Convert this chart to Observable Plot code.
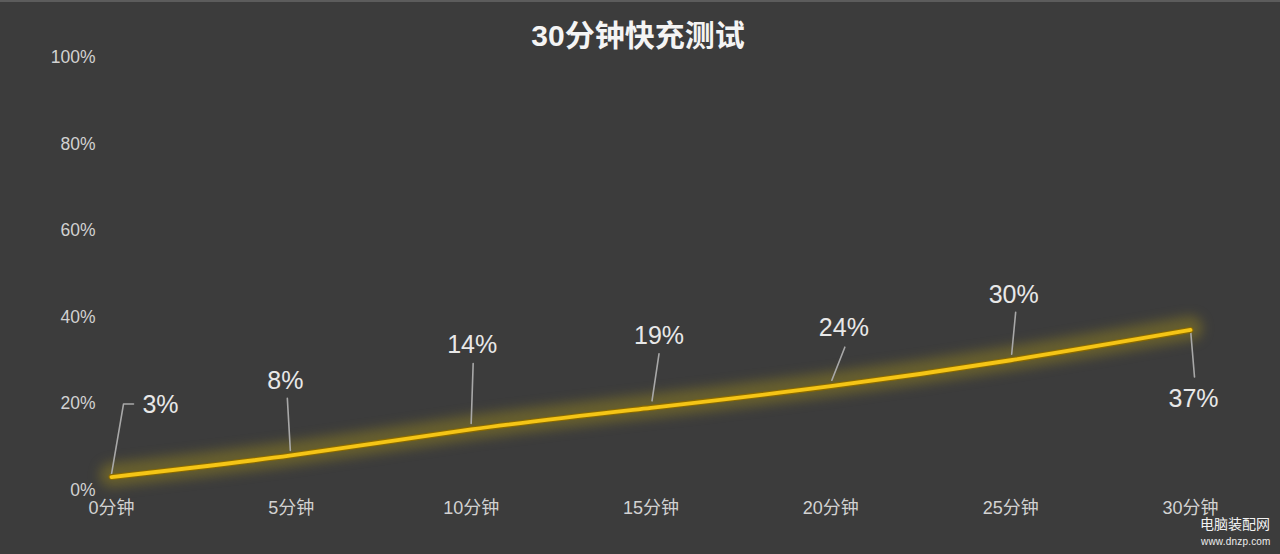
<!DOCTYPE html>
<html>
<head>
<meta charset="utf-8">
<script src="https://cdn.jsdelivr.net/npm/d3@7"></script>
<script src="https://cdn.jsdelivr.net/npm/@observablehq/plot@0.6"></script>
<style>
  html, body { margin: 0; padding: 0; background: #3c3c3c; }
  body { width: 1280px; height: 554px; position: relative; overflow: hidden;
         font-family: "Liberation Sans", "Noto Sans CJK SC", sans-serif; box-shadow: inset 0 2px 0 #5c5c5c; }
  #title { position: absolute; left: 0; top: 18px; width: 1276px; text-align: center;
           font-size: 30px; line-height: 36px; font-weight: bold; color: #f4f4f4;
           font-family: "Liberation Sans", "Noto Sans CJK SC", sans-serif; }
  #chart { position: absolute; left: 0; top: 50px; }
  #wm1 { position: absolute; left: 1200px; top: 515px; font-size: 14px; line-height: 17px; color: #f2f2f2;
         font-family: "Noto Sans CJK SC", sans-serif; }
  #wm2 { position: absolute; left: 1201px; top: 536px; font-size: 10px; line-height: 12px; color: #eeeeee;
         letter-spacing: 0.2px; font-family: "Liberation Sans", sans-serif; }
</style>
</head>
<body>
<div id="title">30分钟快充测试</div>
<div id="chart"></div>
<div id="wm1">电脑装配网</div>
<div id="wm2">www.dnzp.com</div>
<script>
// ---- data ----
const times  = [0, 5, 10, 15, 20, 25, 30];          // minutes
const charge = [3, 8, 14, 19, 24, 30, 37];          // battery %
const xTicks = [0, 5, 10, 15, 20, 25, 30];
const yTicks = [0, 20, 40, 60, 80, 100];

// ---- layout (pixel offsets of callouts relative to each point) ----
const W = 1280, H = 504, mL = 111, mR = 90, mT = 7, mB = 64.5;
const leaderOffsets = [
  [[0, -3], [12, -73], [22, -73]],
  [[-1, -5], [-4, -57]],
  [[0, -6], [2, -66]],
  [[1, -7], [8, -54]],
  [[1, -6], [14, -39]],
  [[1, -6], [5, -48]],
  [[0, -1], [4, 47]]
];
const labelOffsets = [[49, -72], [-6, -74], [1, -84], [8, -72], [13, -58], [3, -65], [3, 69]];

const kx = (W - mL - mR) / 30;   // px per minute
const ky = (H - mT - mB) / 100;  // px per percent

const pts = times.map((t, i) => ({t, v: charge[i]}));
const leaders = leaderOffsets.flatMap((o, i) =>
  o.map(([dx, dy]) => ({i, t: times[i] + dx / kx, v: charge[i] - dy / ky})));
const labels = labelOffsets.map(([dx, dy], i) =>
  ({t: times[i] + dx / kx, v: charge[i] - dy / ky, text: charge[i] + "%"}));

const plot = Plot.plot({
  width: W, height: H,
  marginLeft: mL, marginRight: mR, marginTop: mT, marginBottom: mB,
  style: {background: "transparent", color: "#d2d2d2", overflow: "visible",
          fontFamily: "'Liberation Sans', 'Noto Sans CJK SC', sans-serif"},
  x: {domain: [0, 30]},
  y: {domain: [0, 100]},
  marks: [
    Plot.axisY({ticks: yTicks, tickFormat: d => d + "%", tickSize: 0, tickPadding: 16,
                fontSize: 17.5, label: null, letterSpacing: 1}),
    Plot.axisX({ticks: xTicks, tickFormat: d => d + "分钟", tickSize: 0, tickPadding: 11,
                fontSize: 18, label: null, letterSpacing: 2.5}),
    Plot.line(pts, {x: "t", y: "v", curve: "natural", stroke: "#9c8a1c", strokeWidth: 24,
                    strokeOpacity: 0.45, imageFilter: "blur(6px)", dy: -2}),
    Plot.line(leaders, {x: "t", y: "v", z: "i", stroke: "#a8a8a8", strokeWidth: 1.6}),
    Plot.line(pts, {x: "t", y: "v", curve: "natural", stroke: "#8a6a00", strokeWidth: 6}),
    Plot.line(pts, {x: "t", y: "v", curve: "natural", stroke: "#f5c516", strokeWidth: 3.8}),
    Plot.text(labels, {x: "t", y: "v", text: "text", fill: "#e8e8e8", fontSize: 25, letterSpacing: 2})
  ]
});
document.getElementById("chart").appendChild(plot);
</script>
</body>
</html>
